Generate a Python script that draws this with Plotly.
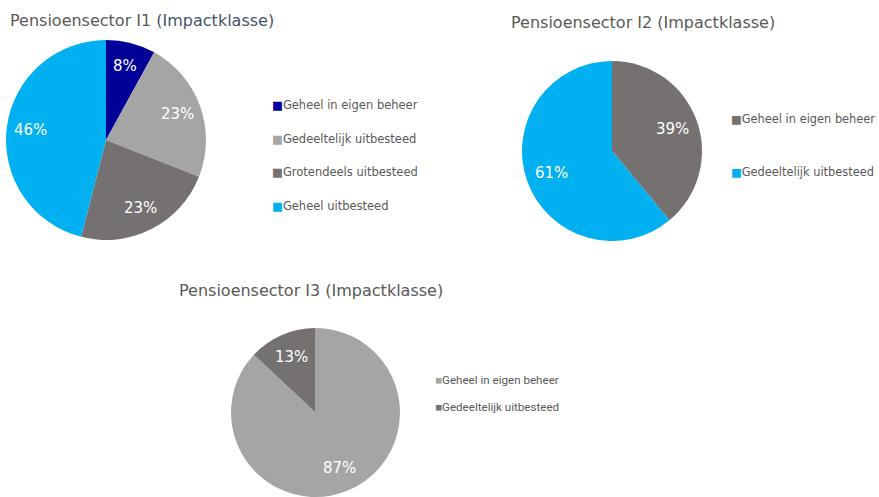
import math
import plotly.graph_objects as go

# ---- data ----
labels_i1 = ["Geheel in eigen beheer", "Gedeeltelijk uitbesteed", "Grotendeels uitbesteed", "Geheel uitbesteed"]
values_i1 = [8, 23, 23, 46]
colors_i1 = ["#000099", "#A5A5A5", "#767171", "#00B0F0"]

labels_i2 = ["Geheel in eigen beheer", "Gedeeltelijk uitbesteed"]
values_i2 = [39, 61]
colors_i2 = ["#767171", "#00B0F0"]

labels_i3 = ["Geheel in eigen beheer", "Gedeeltelijk uitbesteed"]
values_i3 = [87, 13]
colors_i3 = ["#A5A5A5", "#767171"]

W, H = 879, 497

def px_dom(x0, x1, y0, y1):
    return dict(x=[x0 / W, x1 / W], y=[1 - y1 / H, 1 - y0 / H])

fig = go.Figure()
annotations = []

common = dict(sort=False, direction="clockwise", rotation=0,
              textinfo="none", marker_line_width=0, showlegend=False,
              hoverinfo="label+percent")

def pie(labels, values, colors, x0, x1, y0, y1, frac=0.75):
    fig.add_trace(go.Pie(labels=labels, values=values, marker_colors=colors,
                         domain=px_dom(x0, x1, y0, y1), **common))
    cx, cy = (x0 + x1) / 2, (y0 + y1) / 2
    r = min(x1 - x0, y1 - y0) / 2
    total = sum(values)
    cum = 0
    for v in values:
        mid = (cum + v / 2) / total * 2 * math.pi
        cum += v
        lx = cx + frac * r * math.sin(mid)
        ly = cy - frac * r * math.cos(mid)
        annotations.append(dict(x=lx / W, y=1 - ly / H, xref="paper", yref="paper",
                                xanchor="center", yanchor="middle", showarrow=False,
                                text=f"{round(v / total * 100)}%",
                                font=dict(family="DejaVu Sans", size=15, color="white")))

pie(labels_i1, values_i1, colors_i1, 6, 206, 40, 240, 0.76)
pie(labels_i2, values_i2, colors_i2, 522, 702, 61, 241, 0.72)
pie(labels_i3, values_i3, colors_i3, 230, 401, 328, 497, 0.71)

def title(x, y, text, size=16):
    annotations.append(dict(x=x / W, y=1 - y / H, xref="paper", yref="paper",
                            xanchor="left", yanchor="middle", showarrow=False,
                            text=text, font=dict(family="DejaVu Sans", size=size, color="#595959")))

title(8, 20, "Pensioensector I1 <span style='color:#44546A'>(Impactklasse)</span>")
title(509, 23, "Pensioensector I2 (Impactklasse)")
title(177, 290, "Pensioensector I3 (Impactklasse)")

def legend(x, ys, labels, colors, family, size):
    for y, lab, col in zip(ys, labels, colors):
        annotations.append(dict(x=x / W, y=1 - y / H, xref="paper", yref="paper",
                                xanchor="left", yanchor="middle", showarrow=False,
                                text=f"<span style='color:{col}'>■</span>{lab}",
                                font=dict(family=family, size=size, color="#595959")))

legend(270, [105, 139, 172, 206], labels_i1, colors_i1, "DejaVu Sans", 11.5)
legend(729, [119, 172], labels_i2, colors_i2, "DejaVu Sans", 11.4)
legend(433, [380, 407], labels_i3, colors_i3, "Roboto", 11.6)

fig.update_layout(width=W, height=H, margin=dict(l=0, r=0, t=0, b=0),
                  paper_bgcolor="white", plot_bgcolor="white",
                  annotations=annotations)

fig.write_html("out.html", config={"displayModeBar": False},
               post_script="document.body.style.margin='0';")
